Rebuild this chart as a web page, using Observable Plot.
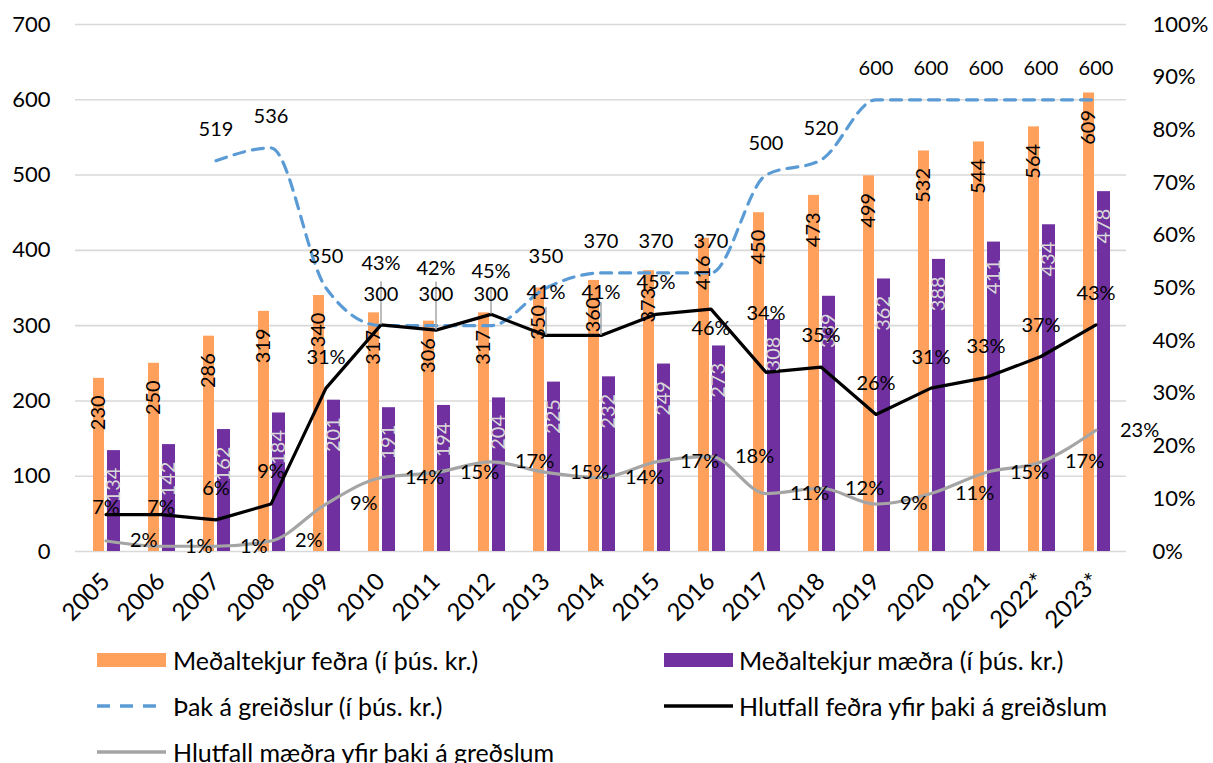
<!DOCTYPE html>
<html>
<head>
<meta charset="utf-8">
<script src="https://cdn.jsdelivr.net/npm/d3@7"></script>
<script src="https://cdn.jsdelivr.net/npm/@observablehq/plot@0.6"></script>
<style>
  html, body { margin: 0; padding: 0; background: #fff; }
  body { font-family: Lato, "Open Sans", sans-serif; width: 1213px; height: 763px; overflow: hidden; }
  #legend { position: relative; width: 1213px; height: 133px; }
  .li { position: absolute; height: 30px; line-height: 30px; font-size: 25px; color: #000; white-space: nowrap; }
  .sw { position: absolute; }
</style>
</head>
<body>
<div id="chart"></div>
<div id="legend"></div>
<script>
// ---- data ----
const years = ["2005","2006","2007","2008","2009","2010","2011","2012","2013","2014","2015","2016","2017","2018","2019","2020","2021","2022*","2023*"];
const fedraTekjur = [230,250,286,319,340,317,306,317,350,360,373,416,450,473,499,532,544,564,609];
const maedraTekjur = [134,142,162,184,201,191,194,204,225,232,249,273,308,339,362,388,411,434,478];
const thak = [null,null,519,536,350,300,300,300,350,370,370,370,500,520,600,600,600,600,600];
const hlutfallFedra = [7,7,6,9,31,43,42,45,41,41,45,46,34,35,26,31,33,37,43];
const hlutfallMaedra = [2,1,1,2,9,14,15,17,15,14,17,18,11,12,9,11,15,17,23];
const leftTicks = [0,100,200,300,400,500,600,700];
const rightTicks = [0,10,20,30,40,50,60,70,80,90,100];

// label layout (pixel offsets of data labels relative to their points)
const fedraLabelDy = [-7,-7,-31,-32,-31,-61,-62,-43,-43,-43,-32,20,-59,-31,-31,-31,-31,-31,-31];
const leaderLen = {"2010": 43, "2011": 48, "2012": 25, "2013": 28, "2014": 33};

const PCT = 7; // 100% on right axis == 700 on left axis

const rows = years.map((year, i) => ({
  year,
  fedra: fedraTekjur[i],
  maedra: maedraTekjur[i],
  thak: thak[i],
  hf: hlutfallFedra[i],
  hm: hlutfallMaedra[i],
  hfDy: fedraLabelDy[i]
}));
const thakRows = rows.filter(d => d.thak != null);

const C_ORANGE = "#FFA05C";
const C_PURPLE = "#7030A0";
const C_BLUE = "#5B9BD5";
const C_GRAY = "#A5A5A5";

const marks = [
  Plot.gridY(leftTicks, {stroke: "#D9D9D9", strokeOpacity: 1, strokeWidth: 1.6}),
  Plot.axisY({ticks: leftTicks, tickSize: 0, tickPadding: 25, fontSize: 22, label: null}),
  Plot.axisY({anchor: "right", ticks: rightTicks.map(v => v * PCT), tickFormat: v => Math.round(v / PCT) + "%", tickSize: 0, tickPadding: 26, fontSize: 22, label: null, textAnchor: "start"}),
  Plot.axisX({tickSize: 0, tickRotate: -45, tickPadding: 26, fontSize: 24, label: null}),
  Plot.barY(rows, {x: "year", y: "fedra", fill: C_ORANGE, insetLeft: 15, insetRight: 29}),
  Plot.barY(rows, {x: "year", y: "maedra", fill: C_PURPLE, insetLeft: 29, insetRight: 13}),
  Plot.line(thakRows, {x: "year", y: "thak", stroke: C_BLUE, strokeWidth: 3.2, strokeDasharray: "11,8", curve: "monotone-x"}),
  Plot.line(rows, {x: "year", y: d => d.hm * PCT, stroke: C_GRAY, strokeWidth: 3.2, curve: "monotone-x"}),
  Plot.line(rows, {x: "year", y: d => d.hf * PCT, stroke: "#000", strokeWidth: 3.2}),
  ...Object.entries(leaderLen).map(([yr, len]) =>
    Plot.ruleX(rows.filter(d => d.year === yr), {x: "year", y1: d => d.hf * PCT, y2: d => d.hf * PCT, insetTop: -len, stroke: "#A6A6A6", strokeWidth: 1.5})
  ),
  // bar labels
  Plot.text(rows, {x: "year", y: "fedra", text: d => String(d.fedra), rotate: -90, textAnchor: "end", lineAnchor: "middle", dx: -7, dy: 17, fill: "#000", fontSize: 20}),
  Plot.text(rows, {x: "year", y: "maedra", text: d => String(d.maedra), rotate: -90, textAnchor: "end", lineAnchor: "middle", dx: 8, dy: 17, fill: "#D9D9D9", fontSize: 20}),
  // line labels
  Plot.text(thakRows, {x: "year", y: "thak", text: d => String(d.thak), lineAnchor: "middle", dy: -31, fill: "#000", fontSize: 20}),
  Plot.text(rows, {x: "year", y: d => d.hm * PCT, text: d => d.hm + "%", textAnchor: "start", lineAnchor: "middle", dx: 24, fill: "#000", fontSize: 20}),
  ...rows.map(d => Plot.text([d], {x: "year", y: r => r.hf * PCT, text: r => r.hf + "%", lineAnchor: "middle", dy: d.hfDy, fill: "#000", fontSize: 20}))
];

const chart = Plot.plot({
  width: 1213,
  height: 630,
  marginLeft: 75,
  marginRight: 87,
  marginTop: 24,
  marginBottom: 79,
  x: {type: "band", domain: years, padding: 0},
  y: {domain: [0, 700]},
  style: {fontFamily: "Lato, 'Open Sans', sans-serif", fontSize: "20px", background: "#fff", color: "#000", overflow: "visible"},
  marks
});
document.getElementById("chart").appendChild(chart);

// ---- legend ----
const legendItems = [
  {label: "Meðaltekjur feðra (í þús. kr.)", kind: "rect", color: C_ORANGE, col: 0, row: 0},
  {label: "Meðaltekjur mæðra (í þús. kr.)", kind: "rect", color: C_PURPLE, col: 1, row: 0},
  {label: "Þak á greiðslur (í þús. kr.)", kind: "dash", color: C_BLUE, col: 0, row: 1},
  {label: "Hlutfall feðra yfir þaki á greiðslum", kind: "line", color: "#000", col: 1, row: 1},
  {label: "Hlutfall mæðra yfir þaki á greðslum", kind: "line", color: C_GRAY, col: 0, row: 2}
];
const colSwatchX = [97, 664];
const colTextX = [173, 739];
const rowCY = [30, 76, 122];
const leg = d3.select("#legend");
legendItems.forEach(it => {
  const cy = rowCY[it.row];
  const svg = leg.append("svg").attr("class", "sw")
    .style("left", colSwatchX[it.col] + "px").style("top", (cy - 10) + "px")
    .attr("width", 70).attr("height", 20);
  if (it.kind === "rect") {
    svg.append("rect").attr("x", 0).attr("y", 3).attr("width", 69).attr("height", 14).attr("fill", it.color);
  } else {
    svg.append("line").attr("x1", 0).attr("x2", 69).attr("y1", 10).attr("y2", 10)
      .attr("stroke", it.color).attr("stroke-width", 3.5)
      .attr("stroke-dasharray", it.kind === "dash" ? "13,10" : null);
  }
  leg.append("div").attr("class", "li")
    .style("left", colTextX[it.col] + "px").style("top", (cy - 15) + "px")
    .text(it.label);
});
</script>
</body>
</html>
